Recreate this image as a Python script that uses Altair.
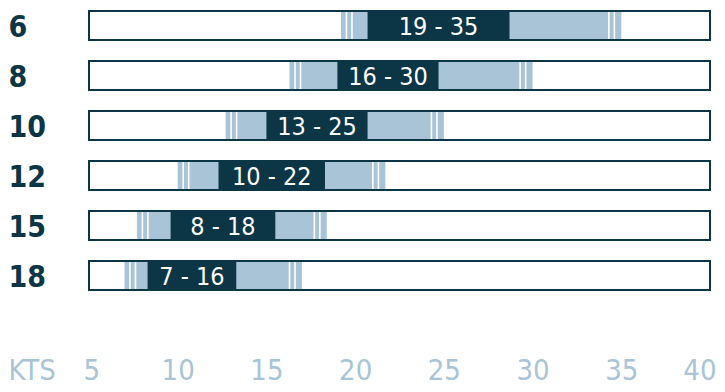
import altair as alt
import pandas as pd

# Kite sizes (m²) and wind ranges (knots)
sizes = ["6", "8", "10", "12", "15", "18"]
wind_low = [19, 16, 13, 10, 8, 7]
wind_high = [35, 30, 25, 22, 18, 16]
# usable range (light band) and sweet spot (dark band)
light_start = [19.2, 16.3, 12.7, 10.0, 7.7, 7.0]
light_end = [35.0, 30.0, 25.0, 21.7, 18.4, 17.0]
dark_start = [20.7, 19.0, 15.0, 12.3, 9.6, 8.3]
dark_end = [28.7, 24.7, 20.7, 18.3, 15.5, 13.3]
axis_min, axis_max = 5, 40
tick_values = [5, 10, 15, 20, 25, 30, 35, 40]

DARK = "#0c3545"
LIGHT = "#a9c4d6"
FONT = "Liberation Sans Narrow, DejaVu Sans Condensed, sans-serif"

df = pd.DataFrame({
    "size": sizes,
    "ls": light_start,
    "le": light_end,
    "ds": dark_start,
    "de": dark_end,
})
df["label"] = [f"{a} - {b}" for a, b in zip(wind_low, wind_high)]
df["mid"] = (df["ds"] + df["de"]) / 2
df["lo"] = axis_min
df["hi"] = axis_max

stripe_rows = []
for s, a, b in zip(sizes, light_start, light_end):
    for p in (a + 0.31, a + 0.62, b - 0.70, b - 0.39):
        stripe_rows.append({"size": s, "pos": p})
stripes = pd.DataFrame(stripe_rows)

xscale = alt.Scale(domain=[axis_min, axis_max], nice=False, zero=False)
yscale = alt.Scale(paddingInner=0.42, paddingOuter=0)

y_axis = alt.Axis(
    title=None, domain=False, ticks=False, tickSize=0, grid=False,
    labelAlign="left", labelPadding=81, labelFontSize=30,
    labelFontWeight="bold", labelColor=DARK, labelFont=FONT,
    labelBaseline="middle", labelOffset=2,
)

x_axis = alt.Axis(
    values=tick_values, title="KTS", domain=False, ticks=False, tickSize=0,
    grid=False, labelPadding=66, labelFontSize=29, labelColor=LIGHT,
    labelFont=FONT, labelFlush=True, labelFlushOffset=6, labelBaseline="top",
    titleX=-81, titleY=66, titleAlign="left", titleAnchor="start",
    titleBaseline="top", titleFontSize=29, titleFontWeight="normal",
    titleColor=LIGHT, titleFont=FONT,
)


def X(field):
    return alt.X(field, type="quantitative", scale=xscale, axis=x_axis)


def Y():
    return alt.Y("size:N", sort=sizes, scale=yscale, axis=y_axis)


box = alt.Chart(df).mark_rect(fill="white", strokeWidth=0).encode(
    x=X("lo"), x2="hi:Q", y=Y(),
)

light = alt.Chart(df).mark_rect(fill=LIGHT).encode(
    x=X("ls"), x2="le:Q", y=Y(),
)

lines = alt.Chart(stripes).mark_tick(
    color="white", thickness=1.6, size=27, orient="vertical", opacity=1
).encode(
    x=X("pos"), y=Y(),
)

dark = alt.Chart(df).mark_rect(fill=DARK).encode(
    x=X("ds"), x2="de:Q", y=Y(),
)

outline = alt.Chart(df).mark_rect(filled=False, stroke=DARK, strokeWidth=2).encode(
    x=X("lo"), x2="hi:Q", y=Y(),
)

labels = alt.Chart(df).mark_text(
    color="white", fontSize=25, font=FONT, baseline="middle", align="center", dy=1
).encode(
    x=X("mid"), y=Y(), text="label:N",
)

chart = alt.layer(box, light, lines, dark, outline, labels).properties(
    width=621, height=279,
    padding={"left": 0, "top": 2, "right": 0, "bottom": 0},
    background="white",
).configure_view(stroke=None)

chart.save("out.html", embed_options={"renderer": "svg", "actions": False})
